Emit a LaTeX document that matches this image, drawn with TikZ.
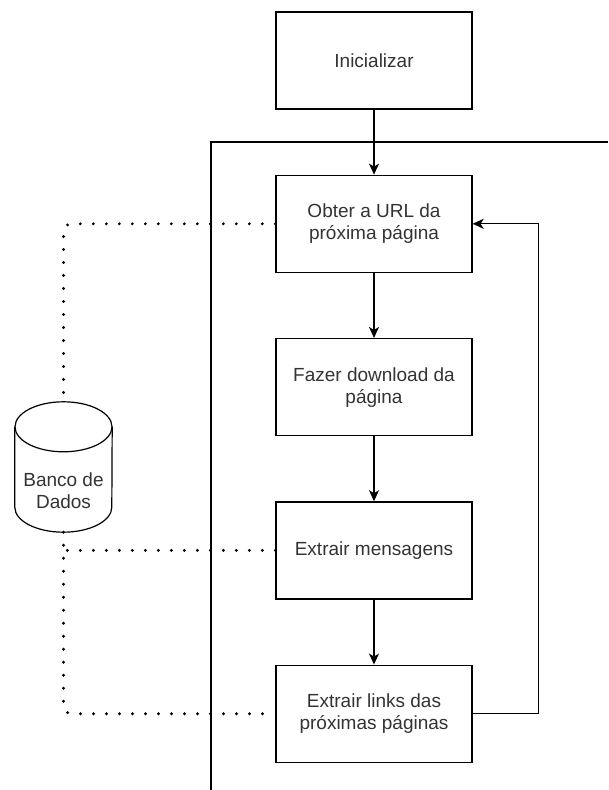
\documentclass[tikz,border=0pt]{standalone}
\usepackage{fontspec}
\setmainfont{Liberation Sans}
\usetikzlibrary{arrows.meta, positioning}

\begin{document}
\begin{tikzpicture}[x=1pt, y=1pt, node distance=65pt,
		every node/.style={font=\fontsize{19}{22}\selectfont, text=black!80},
		passo/.style={draw, line width=1.3pt, minimum width=196pt, minimum height=97pt, align=center, inner sep=0pt},
		fluxo/.style={-{Stealth[length=11pt, width=10pt, inset=3pt]}, line width=1.3pt},
		pontos/.style={line width=3.2pt, line cap=round, dash pattern=on 0pt off 13pt, rounded corners=8pt},
		tambor/.style={line width=1.2pt, x radius=48.5pt, y radius=25pt}]
		\useasboundingbox (0,0) rectangle (608,790);
		
		% moldura do laco
		\coordinate (molduraBaixo) at (211,0);
		\coordinate (molduraDir) at (608,648);
		\draw[line width=1.3pt] (molduraBaixo) |- (molduraDir);
		
		\node[passo] (init) at (374,729.5) {Inicializar};
		\node[passo, below = of init] (obter) {Obter a URL da\\próxima página};
		\node[passo, below = of obter] (download) {Fazer download da\\página};
		\node[passo, below = of download] (mensagens) {Extrair mensagens};
		\node[passo, below = of mensagens] (links) {Extrair links das\\próximas páginas};
		
		% banco de dados (cilindro)
		\node[minimum width=97pt, minimum height=130pt, inner sep=0pt] (banco) at (63.5,323) {};
		\draw[tambor] ([yshift=-25pt]banco.north) ellipse [];
		\draw[tambor] ([yshift=-25pt]banco.north west) -- ([yshift=25pt]banco.south west)
			arc[start angle=180, end angle=360] -- ([yshift=-25pt]banco.north east);
		\node[align=center] (bancoTexto) at ([yshift=-24pt]banco.center) {Banco de\\Dados};
		
		\draw[fluxo] (init) to (obter);
		\draw[fluxo] (obter) to (download);
		\draw[fluxo] (download) to (mensagens);
		\draw[fluxo] (mensagens) to (links);
		\draw[fluxo] (links.east) -- ++(66,0) |- (obter.east);
		
		\draw[pontos] (obter.west) -| (banco.north);
		\draw[pontos] (mensagens.west) -- (mensagens.west -| banco.south);
		\draw[pontos] (banco.south) |- (links.west);
		
	\end{tikzpicture}
\end{document}
